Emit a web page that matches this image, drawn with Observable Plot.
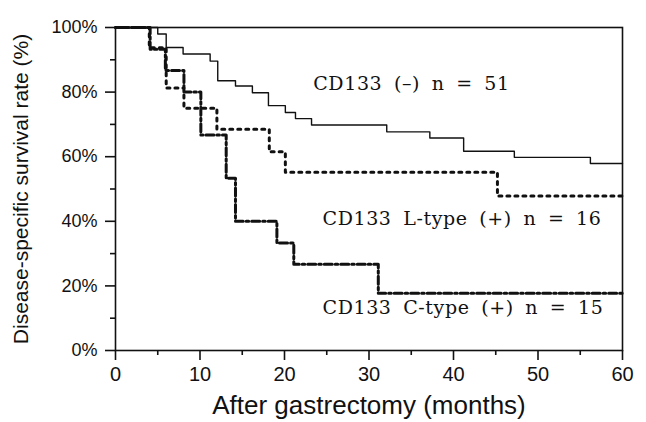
<!DOCTYPE html>
<html>
<head>
<meta charset="utf-8">
<script src="https://cdn.jsdelivr.net/npm/d3@7"></script>
<script src="https://cdn.jsdelivr.net/npm/@observablehq/plot@0.6"></script>
<style>
  html, body { margin: 0; padding: 0; background: #fff; }
  #chart { width: 646px; height: 422px; overflow: hidden; }
  g.anno text { letter-spacing: 0.6px; word-spacing: 5px; }
</style>
</head>
<body>
<div id="chart"></div>
<script>
// CD133 (−) n = 51
const negMonths = [0, 5, 6, 8, 11.2, 12.1, 14.2, 16.2, 18.1, 20.1, 21.3, 23.2, 32.1, 37.2, 41.2, 47.2, 56.2, 60];
const negSurv   = [100, 98, 93.8, 91.8, 89.6, 83.5, 81.9, 79.8, 75.8, 73.7, 71.8, 69.8, 67.7, 65.8, 61.7, 59.8, 57.9, 57.9];
// CD133 L-type (+) n = 16
const lMonths = [0, 4, 6, 8.1, 12, 18.2, 20.1, 45.2, 60];
const lSurv   = [100, 93.75, 81.25, 75, 68.5, 61.5, 55.2, 47.8, 47.8];
// CD133 C-type (+) n = 15
const cMonths = [0, 4.1, 5.9, 8.1, 10.1, 13.1, 14.2, 19.1, 21.1, 31.1, 60];
const cSurv   = [100, 93.3, 86.7, 80, 66.7, 53.3, 40, 33.3, 26.7, 17.7, 17.7];

const xMajor = [0, 10, 20, 30, 40, 50, 60];
const xMinor = [5, 15, 25, 35, 45, 55];
const yMajor = [0, 20, 40, 60, 80, 100];
const yMinor = [10, 30, 50, 70, 90];

const labelTexts = ["CD133 (–) n = 51", "CD133 L-type (+) n = 16", "CD133 C-type (+) n = 15"];
const labelX = [23.4, 24.5, 24.5];
const labelY = [82.6, 40.8, 13.2];

const xTitle = "After gastrectomy (months)";
const yTitle = "Disease-specific survival rate (%)";

const toRows = (m, s) => m.map((t, i) => ({t, s: s[i]}));
const neg = toRows(negMonths, negSurv);
const lt = toRows(lMonths, lSurv);
const ct = toRows(cMonths, cSurv);
const labels = labelTexts.map((text, i) => ({text, x: labelX[i], y: labelY[i]}));

const ink = "#111";

const chart = Plot.plot({
  width: 646,
  height: 422,
  marginLeft: 115,
  marginRight: 24,
  marginTop: 27,
  marginBottom: 72,
  style: {fontFamily: "'Liberation Sans', Arial, sans-serif", color: ink, background: "#fff", overflow: "visible"},
  x: {domain: [0, 60]},
  y: {domain: [0, 100]},
  marks: [
    Plot.axisX({ticks: xMajor, tickSize: 10, tickPadding: 6, fontSize: 20, strokeWidth: 1.6, label: null, tickFormat: d => String(d)}),
    Plot.axisX({ticks: xMinor, tickSize: 5, strokeWidth: 1.6, label: null, tickFormat: () => ""}),
    Plot.axisY({ticks: yMajor, tickSize: 10, tickPadding: 8, fontSize: 18, strokeWidth: 1.6, label: null, tickFormat: d => d + "%"}),
    Plot.axisY({ticks: yMinor, tickSize: 5, strokeWidth: 1.6, label: null, tickFormat: () => ""}),
    Plot.line(neg, {x: "t", y: "s", curve: "step-after", stroke: ink, strokeWidth: 1.4}),
    Plot.line(lt, {x: "t", y: "s", curve: "step-after", stroke: ink, strokeWidth: 3, strokeDasharray: "3,5"}),
    Plot.line(ct, {x: "t", y: "s", curve: "step-after", stroke: ink, strokeWidth: 3, strokeDasharray: "8,3,2.5,3"}),
    Plot.frame({stroke: ink, strokeWidth: 1.6}),
    Plot.text(labels, {x: "x", y: "y", text: "text", textAnchor: "start", fontSize: 19, fontFamily: "'DejaVu Serif', 'Liberation Serif', serif", fill: ink, className: "anno"}),
    Plot.text([xTitle], {frameAnchor: "bottom", dy: 63, fontSize: 26, fill: ink, textAnchor: "middle", lineAnchor: "bottom"}),
    Plot.text([yTitle], {frameAnchor: "left", dx: -94, rotate: -90, fontSize: 21, fill: ink, textAnchor: "middle"})
  ]
});
document.getElementById("chart").appendChild(chart);
</script>
</body>
</html>
